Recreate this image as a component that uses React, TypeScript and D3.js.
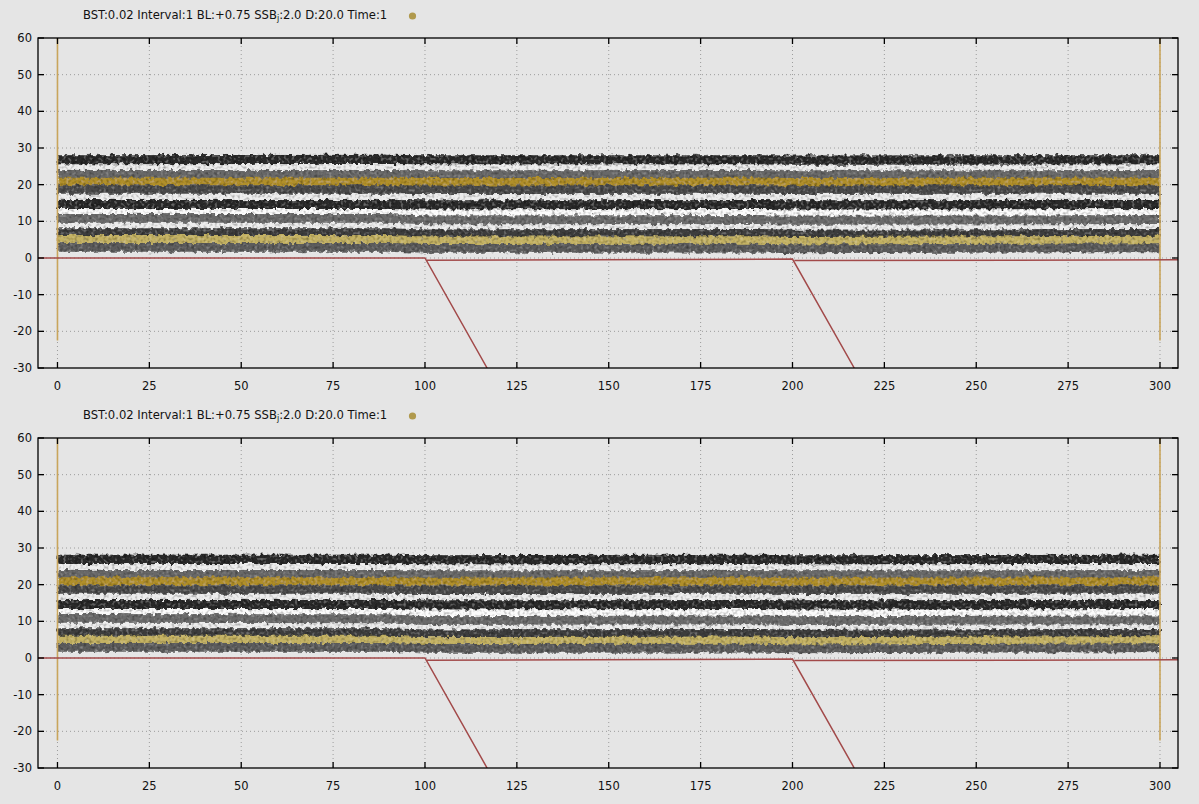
import * as d3 from 'd3';

const WIDTH = 1199;
const HEIGHT = 804;
const PANEL_H = 400;
const MARGIN = { top: 38, right: 21, bottom: 32, left: 38 };

const X_DOMAIN = [-5.3, 304.9];
const Y_DOMAIN = [-30, 60];
const X_TICKS = [0, 25, 50, 75, 100, 125, 150, 175, 200, 225, 250, 275, 300];
const Y_TICKS = [-30, -20, -10, 0, 10, 20, 30, 40, 50, 60];

const LEGEND_TEXT = ['BST:0.02 Interval:1 BL:+0.75 SSB', 'j', ':2.0 D:20.0 Time:1'];

const BAND_X = [0, 90, 100, 190, 200, 300];

// band levels, top panel
const TOP_BLACK_1 = [26.8, 26.9, 26.8, 26.8, 26.7, 26.8];
const TOP_GRAY_1 = [22.8, 22.8, 22.7, 22.8, 22.7, 22.8];
const TOP_GOLD_1 = [20.8, 20.8, 20.7, 20.8, 20.7, 20.8];
const TOP_DGRAY_1 = [18.7, 18.7, 18.6, 18.7, 18.6, 18.7];
const TOP_BLACK_2 = [14.6, 14.6, 14.5, 14.6, 14.5, 14.6];
const TOP_WHITE = [12.3, 12.3, 12.2, 12.3, 12.2, 12.3];
const TOP_GRAY_2 = [10.8, 10.8, 10.4, 10.5, 10.3, 10.5];
const TOP_DARK_3 = [7.0, 7.0, 6.7, 6.8, 6.6, 6.8];
const TOP_GOLD_2 = [5.1, 5.1, 4.7, 4.8, 4.6, 4.9];
const TOP_GRAY_3 = [2.9, 2.9, 2.6, 2.7, 2.5, 2.8];

// band levels, bottom panel
const BOT_BLACK_1 = [26.9, 26.9, 26.8, 26.9, 26.8, 26.9];
const BOT_GRAY_1 = [22.8, 22.8, 22.7, 22.8, 22.7, 22.8];
const BOT_GOLD_1 = [20.9, 20.9, 20.8, 20.9, 20.8, 20.9];
const BOT_DGRAY_1 = [18.7, 18.7, 18.6, 18.7, 18.6, 18.7];
const BOT_BLACK_2 = [14.6, 14.6, 14.5, 14.6, 14.5, 14.6];
const BOT_WHITE = [12.3, 12.3, 12.2, 12.3, 12.2, 12.3];
const BOT_GRAY_2 = [10.8, 10.7, 10.2, 10.4, 10.2, 10.4];
const BOT_DARK_3 = [7.0, 7.0, 6.7, 6.8, 6.6, 6.8];
const BOT_GOLD_2 = [4.9, 4.9, 4.5, 4.7, 4.5, 4.8];
const BOT_GRAY_3 = [2.9, 2.9, 2.6, 2.7, 2.5, 2.8];

// red trace segments
const RED_1_X = [-5.3, 100, 116.9];
const RED_1_Y = [0, 0, -30];
const RED_2_X = [100.5, 200, 216.8];
const RED_2_Y = [-0.6, -0.3, -30];
const RED_3_X = [200.5, 304.9];
const RED_3_Y = [-0.7, -0.5];

// gold vertical traces
const GOLD_X = [0, 300];
const GOLD_Y = [60, -22.5];

type Band = { level: number[]; half: number; color: string };

const bandsOf = (levels: number[][]): Band[] => {
  const style = [
    { half: 1.2, color: '#686868' },
    { half: 1.1, color: '#b08f2c' },
    { half: 1.15, color: '#4a4a4a' },
    { half: 1.0, color: '#fbfbfb' },
    { half: 1.25, color: '#2c2c2c' },
    { half: 1.2, color: '#6a6a6a' },
    { half: 1.1, color: '#3c3c3c' },
    { half: 1.15, color: '#c4b264' },
    { half: 1.2, color: '#5c5c5c' },
    { half: 1.25, color: '#2a2a2a' },
  ];
  return levels.map((level, i) => ({ level, ...style[i] }));
};

const TOP_BANDS = bandsOf([
  TOP_GRAY_1, TOP_GOLD_1, TOP_DGRAY_1, TOP_WHITE, TOP_BLACK_2,
  TOP_GRAY_2, TOP_DARK_3, TOP_GOLD_2, TOP_GRAY_3, TOP_BLACK_1,
]);
const BOT_BANDS = bandsOf([
  BOT_GRAY_1, BOT_GOLD_1, BOT_DGRAY_1, BOT_WHITE, BOT_BLACK_2,
  BOT_GRAY_2, BOT_DARK_3, BOT_GOLD_2, BOT_GRAY_3, BOT_BLACK_1,
]);

const FONT = 'DejaVu Sans, sans-serif';

type PanelProps = { offsetY: number; bands: Band[]; id: string };

const Panel = ({ offsetY, bands, id }: PanelProps) => {
  const boundsWidth = WIDTH - MARGIN.left - MARGIN.right;
  const boundsHeight = PANEL_H - MARGIN.top - MARGIN.bottom;

  const xScale = d3.scaleLinear().domain(X_DOMAIN).range([0, boundsWidth]);
  const yScale = d3.scaleLinear().domain(Y_DOMAIN).range([boundsHeight, 0]);

  const line = d3
    .line<[number, number]>()
    .x((d) => xScale(d[0]))
    .y((d) => yScale(d[1]));

  const bandShapes = bands.map((b, i) => {
    const area = d3
      .area<number>()
      .x((_, j) => xScale(BAND_X[j]))
      .y0((d) => yScale(d - b.half))
      .y1((d) => yScale(d + b.half));
    return (
      <path key={i} d={area(b.level) ?? ''} fill={b.color} filter={`url(#speckle-${id})`} />
    );
  });

  // light fill behind the bands
  const lowest = bands[8].level.map((v) => v - bands[8].half - 0.3);
  const highest = bands[9].level.map((v) => v + bands[9].half + 0.3);
  const backArea = d3
    .area<number>()
    .x((_, j) => xScale(BAND_X[j]))
    .y0((_, j) => yScale(lowest[j]))
    .y1((_, j) => yScale(highest[j]));

  const zip = (xs: number[], ys: number[]) => xs.map((x, i) => [x, ys[i]] as [number, number]);

  const grid = (
    <g stroke="#9c9c9c" strokeWidth={1} strokeDasharray="1,3">
      {X_TICKS.map((t) => (
        <line key={`gx${t}`} x1={xScale(t)} x2={xScale(t)} y1={0} y2={boundsHeight} />
      ))}
      {Y_TICKS.slice(1, -1).map((t) => (
        <line key={`gy${t}`} x1={0} x2={boundsWidth} y1={yScale(t)} y2={yScale(t)} />
      ))}
    </g>
  );

  const ticks = (
    <g stroke="#000" strokeWidth={1.3}>
      {X_TICKS.map((t) => (
        <g key={`tx${t}`}>
          <line x1={xScale(t)} x2={xScale(t)} y1={boundsHeight} y2={boundsHeight - 6} />
          <line x1={xScale(t)} x2={xScale(t)} y1={0} y2={6} />
        </g>
      ))}
      {Y_TICKS.map((t) => (
        <g key={`ty${t}`}>
          <line x1={0} x2={6} y1={yScale(t)} y2={yScale(t)} />
          <line x1={boundsWidth} x2={boundsWidth - 6} y1={yScale(t)} y2={yScale(t)} />
        </g>
      ))}
    </g>
  );

  return (
    <g transform={`translate(${MARGIN.left},${offsetY + MARGIN.top})`}>
      <defs>
        <clipPath id={`clip-${id}`}>
          <rect x={0} y={0} width={boundsWidth} height={boundsHeight} />
        </clipPath>
        <filter id={`speckle-${id}`} x="-0.01" y="-0.6" width="1.02" height="2.2">
          <feTurbulence type="fractalNoise" baseFrequency="0.22" numOctaves={2} seed={id === 'a' ? 2 : 9} result="n1" />
          <feDisplacementMap in="SourceGraphic" in2="n1" scale={6} xChannelSelector="R" yChannelSelector="G" result="d" />
          <feTurbulence type="fractalNoise" baseFrequency="0.35" numOctaves={1} seed={id === 'a' ? 5 : 12} result="n2" />
          <feColorMatrix in="n2" type="matrix" values="0 0 0 0 0  0 0 0 0 0  0 0 0 0 0  1.6 0 0 0 -0.75" result="dk" />
          <feComposite in="dk" in2="d" operator="in" result="dkIn" />
          <feColorMatrix in="n2" type="matrix" values="0 0 0 0 1  0 0 0 0 1  0 0 0 0 1  0 -1.6 0 0 0.75" result="lt" />
          <feComposite in="lt" in2="d" operator="in" result="ltIn" />
          <feComponentTransfer in="ltIn" result="ltSoft">
            <feFuncA type="linear" slope={0.3} />
          </feComponentTransfer>
          <feMerge>
            <feMergeNode in="d" />
            <feMergeNode in="dkIn" />
            <feMergeNode in="ltSoft" />
          </feMerge>
        </filter>
      </defs>

      <text x={83 - MARGIN.left} y={-23} fontFamily={FONT} fontSize={11.6} fill="#111" dominantBaseline="central">
        {LEGEND_TEXT[0]}
        <tspan fontSize={8} dy={3}>{LEGEND_TEXT[1]}</tspan>
        <tspan dy={-3}>{LEGEND_TEXT[2]}</tspan>
      </text>
      <circle cx={412.5 - MARGIN.left} cy={-22} r={3.6} fill="#b0994c" />

      {grid}

      <g clipPath={`url(#clip-${id})`}>
        <path d={backArea(BAND_X) ?? ''} fill="#ededed" filter={`url(#speckle-${id})`} />
        {bandShapes}
        {GOLD_X.map((gx) => (
          <path key={gx} d={line(zip([gx, gx], GOLD_Y)) ?? ''} stroke="#c9a55c" strokeWidth={1.6} fill="none" />
        ))}
        <g stroke="#a24a4a" strokeWidth={1.5} fill="none">
          <path d={line(zip(RED_1_X, RED_1_Y)) ?? ''} />
          <path d={line(zip(RED_2_X, RED_2_Y)) ?? ''} />
          <path d={line(zip(RED_3_X, RED_3_Y)) ?? ''} />
        </g>
      </g>

      {ticks}
      <rect x={0} y={0} width={boundsWidth} height={boundsHeight} fill="none" stroke="#000" strokeWidth={1.3} />

      {Y_TICKS.map((t) => (
        <text key={`ly${t}`} x={-6} y={yScale(t)} textAnchor="end" dominantBaseline="central" fontFamily={FONT} fontSize={11.5} fill="#111">
          {t}
        </text>
      ))}
      {X_TICKS.map((t) => (
        <text key={`lx${t}`} x={xScale(t)} y={boundsHeight + 18} textAnchor="middle" dominantBaseline="central" fontFamily={FONT} fontSize={11.5} fill="#111">
          {t}
        </text>
      ))}
    </g>
  );
};

const App = () => {
  return (
    <svg width={WIDTH} height={HEIGHT} style={{ position: 'absolute', left: 0, top: 0 }}>
      <rect x={0} y={0} width={WIDTH} height={HEIGHT} fill="#e5e5e5" />
      <Panel offsetY={0} bands={TOP_BANDS} id="a" />
      <Panel offsetY={PANEL_H} bands={BOT_BANDS} id="b" />
    </svg>
  );
};

export default App;
